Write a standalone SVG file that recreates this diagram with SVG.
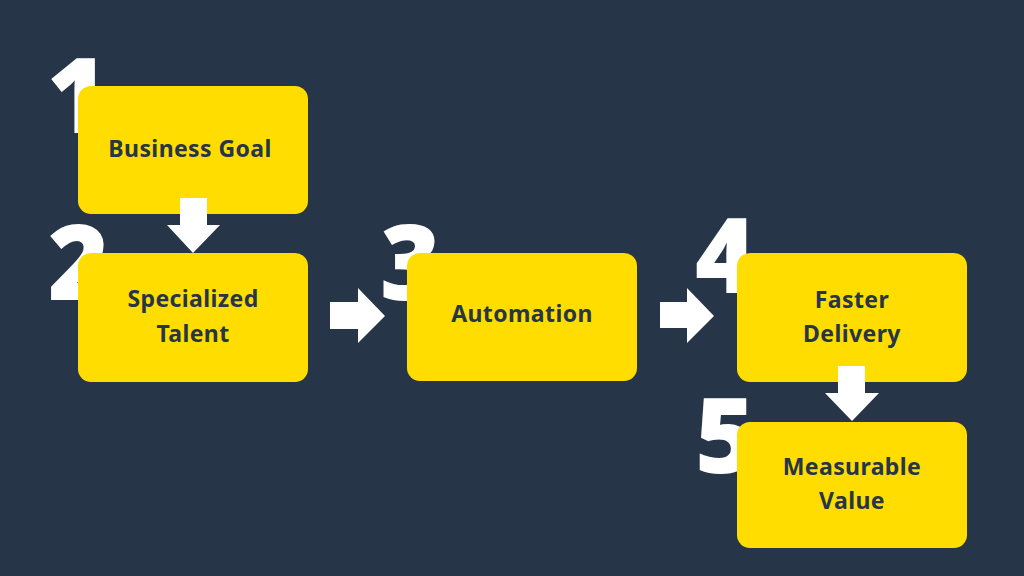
<svg xmlns="http://www.w3.org/2000/svg" width="1024" height="576" viewBox="0 0 1024 576">
<style>
.num{font-family:"Open Sans",Lato,sans-serif;font-weight:800;font-size:104px;fill:#ffffff}
.box{fill:#ffdd00}
.lbl{font-family:"Noto Sans","Open Sans",sans-serif;font-weight:700;font-size:23px;letter-spacing:0.4px;fill:#263548;text-anchor:middle;font-variant-ligatures:none}
.arr{fill:#ffffff}
</style>
<rect width="1024" height="576" fill="#263548"/>
<g id="digits">
<text class="num" x="47" y="133">1</text>
<text class="num" x="48" y="300">2</text>
<text class="num" x="380" y="300">3</text>
<text class="num" x="695" y="293">4</text>
<text class="num" x="695" y="473">5</text>
</g>
<g id="node1"><rect class="box" x="78" y="86" width="230" height="128" rx="13"/><text class="lbl" x="190" y="157">Business Goal</text></g>
<g id="node2"><rect class="box" x="78" y="253" width="230" height="129" rx="13"/><text class="lbl" x="193" y="307">Specialized</text><text class="lbl" x="193" y="342">Talent</text></g>
<g id="node3"><rect class="box" x="407" y="253" width="230" height="128" rx="13"/><text class="lbl" x="522" y="322">Automation</text></g>
<g id="node4"><rect class="box" x="737" y="253" width="230" height="129" rx="13"/><text class="lbl" x="852" y="308">Faster</text><text class="lbl" x="852" y="342">Delivery</text></g>
<g id="node5"><rect class="box" x="737" y="422" width="230" height="126" rx="13"/><text class="lbl" x="852" y="475">Measurable</text><text class="lbl" x="852" y="509">Value</text></g>
<g id="connectors">
<polygon class="arr" points="180,198 207,198 207,225 220,225 193,253 167,225 180,225"/>
<polygon class="arr" points="330,302 358,302 358,288 385,316 358,343 358,329 330,329"/>
<polygon class="arr" points="660,302 687,302 687,288 714,316 687,343 687,328 660,328"/>
<polygon class="arr" points="838,366 865,366 865,393 879,393 852,421 825,393 838,393"/>
</g>
</svg>
